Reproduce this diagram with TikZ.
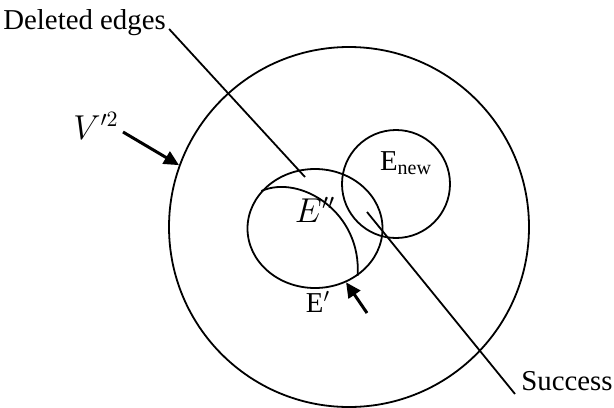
\documentclass[tikz,border=0pt]{standalone}
\usepackage{amsmath}
\usepackage{fontspec}
\setmainfont{Liberation Serif}
\usetikzlibrary{arrows.meta,shapes.geometric}
\begin{document}
\begin{tikzpicture}[x=0.5pt,y=-0.5pt,>={Triangle[length=7.5pt,width=7pt]}]
\tikzset{ring/.style={draw,line width=0.9pt,inner sep=0pt},lbl/.style={font=\fontsize{14.4}{17}\selectfont,inner sep=0pt},lead/.style={line width=0.9pt},ptr/.style={->,line width=1.5pt}}
\useasboundingbox (0,0) rectangle (614,407);
% sets
\node[ring,circle,minimum size=180pt] (vsq) at (349,227) {};
\node[ring,ellipse,minimum width=67.5pt,minimum height=59.5pt] (eold) at (315,228.5) {};
\node[ring,circle,minimum size=54pt] (enew) at (396,184) {};
\draw[ring] (eold.145) .. controls (300,174) and (362,212) .. (eold.-48);
% labels
\node[lbl,anchor=base west] (dlbl) at (3,29) {Deleted edges};
\node[lbl,anchor=base east] (slbl) at (613,390) {Success};
\node[font=\fontsize{16}{19}\selectfont,inner sep=0pt] (vlbl) at (96,126) {$V'^2$};
\node[font=\fontsize{16}{19}\selectfont,inner sep=0pt] (dpp) at (315,210) {$E''$};
\node[lbl] (nlbl) at (406,163) {E$_{\text{new}}$};
\node[lbl] (plbl) at (318,302) {E$^{\prime}$};
\coordinate (dend) at (305,177);
\coordinate (sbeg) at (367,212);
\coordinate (ptail) at (367,313);
% connectors
\draw[lead] ([xshift=1.5pt]dlbl.base east) -- (dend);
\draw[lead] (sbeg) -- ([xshift=-3pt,yshift=-2pt]slbl.base west);
\draw[ptr] ([xshift=2pt,yshift=-3pt]vlbl.east) -- (vsq.160.6);
\draw[ptr] (ptail) -- (eold.-60);
\end{tikzpicture}
\end{document}
